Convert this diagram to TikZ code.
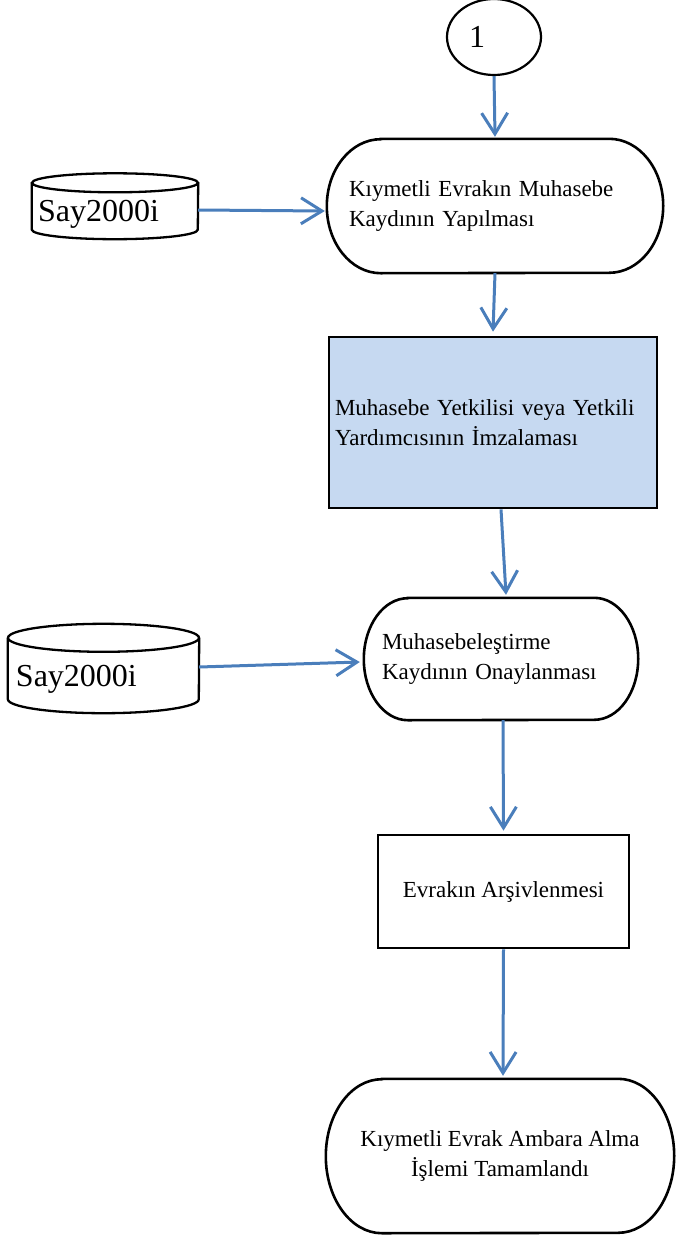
\documentclass[tikz,border=0pt]{standalone}
\usepackage{fontspec}
\setmainfont{Liberation Serif}
\usetikzlibrary{arrows.meta,shapes.geometric}
\definecolor{arrowblue}{RGB}{74,126,187}
\definecolor{boxblue}{RGB}{198,217,241}
\newcommand\termshape[3]{%
  \draw[termline] ([xshift=#2]#1.north west) -- ([xshift=-#2]#1.north east)
    arc[start angle=90,end angle=-90,x radius=#2,y radius=#3]
    -- ([xshift=#2]#1.south west)
    arc[start angle=270,end angle=90,x radius=#2,y radius=#3] -- cycle;}
\begin{document}
\begin{tikzpicture}[x=1pt,y=-1pt,
  term/.style={draw=none, inner ysep=0pt, font=\fontsize{23}{30.5}\selectfont},
  termline/.style={draw=black, line width=2.6pt},
  procbox/.style={draw=black, line width=2.7pt, inner ysep=0pt, font=\fontsize{23}{30.5}\selectfont},
  dbnode/.style={draw=none, inner ysep=0pt, text depth=0pt, align=left, font=\fontsize{32}{38}\selectfont},
  dbline/.style={draw=black, line width=2.3pt},
  arr/.style={draw=arrowblue, line width=3pt, -{Straight Barb[length=21pt,width=26pt]}}]
\useasboundingbox (0,0) rectangle (675,1239);

% start connector
\node[ellipse, draw, line width=2.2pt, minimum width=94pt, minimum height=76pt, inner sep=0pt,
      text width=50pt, align=left, font=\fontsize{32}{38}\selectfont] (start) at (494,37) {1};

% terminal 1
\node[term, minimum width=336pt, minimum height=134pt, text width=292pt, inner xsep=22pt, align=left]
  (t1) at (495,206) {Kıymetli Evrakın Muhasebe\\Kaydının Yapılması};
\termshape{t1}{54pt}{67pt}

% box 2
\node[procbox, fill=boxblue, minimum width=328pt, minimum height=171pt, text width=316pt, inner xsep=6pt, align=left]
  (b2) at (493,422.5) {Muhasebe Yetkilisi veya Yetkili\\Yardımcısının İmzalaması};

% terminal 2
\node[term, minimum width=274pt, minimum height=122pt, text width=238pt, inner xsep=18pt, align=left]
  (t2) at (501,659) {Muhasebeleştirme\\Kaydının Onaylanması};
\termshape{t2}{44pt}{61pt}

% box 3
\node[procbox, minimum width=251pt, minimum height=113pt, align=center]
  (b3) at (503.5,891.5) {Evrakın Arşivlenmesi};

% terminal 3
\node[term, minimum width=348pt, minimum height=154pt, align=center]
  (t3) at (500,1156) {Kıymetli Evrak Ambara Alma\\İşlemi Tamamlandı};
\termshape{t3}{56pt}{77pt}

% database 1
\node[dbnode, minimum width=166pt, minimum height=37pt, text width=154pt, inner xsep=6pt] (d1) at (115,211) {Say2000i};
\draw[dbline] ([yshift=9.5pt]d1.north) ellipse[x radius=83pt, y radius=9.5pt];
\draw[dbline] ([yshift=9.5pt]d1.north west) -- (d1.south west)
  arc[start angle=180,end angle=360,x radius=83pt,y radius=9.5pt] -- ([yshift=9.5pt]d1.north east);

% database 2
\node[dbnode, minimum width=191pt, minimum height=47pt, text width=175pt, inner xsep=8pt] (d2) at (103.5,675.5) {Say2000i};
\draw[dbline] ([yshift=14pt]d2.north) ellipse[x radius=95.5pt, y radius=14pt];
\draw[dbline] ([yshift=14pt]d2.north west) -- (d2.south west)
  arc[start angle=180,end angle=360,x radius=95.5pt,y radius=14pt] -- ([yshift=14pt]d2.north east);

% connectors
\draw[arr] (start.south) -- ([yshift=2pt]t1.north);
\draw[arr] ([yshift=1pt]d1.east) -- ([xshift=-2pt,yshift=-5pt]t1.west);
\draw[arr] (t1.south) -- ([yshift=4pt]b2.north);
\draw[arr] ([xshift=8pt]b2.south) -- ([xshift=5pt,yshift=3pt]t2.north);
\draw[arr] ([yshift=8.5pt]d2.east) -- ([xshift=-4pt,yshift=-3pt]t2.west);
\draw[arr] ([xshift=2pt]t2.south) -- ([yshift=3pt]b3.north);
\draw[arr] (b3.south) -- ([xshift=3pt,yshift=3pt]t3.north);
\end{tikzpicture}
\end{document}
